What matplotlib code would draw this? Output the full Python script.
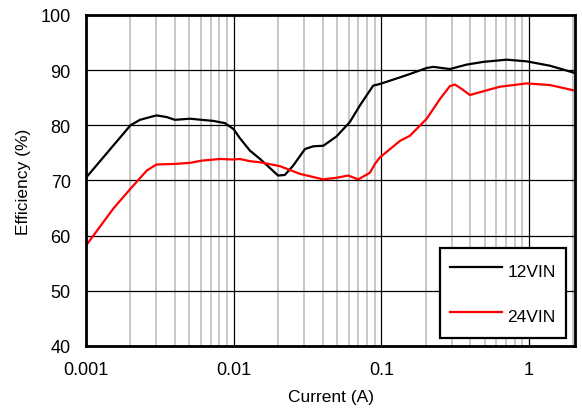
import numpy as np
import matplotlib
matplotlib.use("Agg")
import matplotlib.pyplot as plt
from matplotlib.ticker import FixedLocator, NullFormatter
from matplotlib.lines import Line2D

plt.rcParams["font.family"] = ["Liberation Sans", "DejaVu Sans"]

# 12VIN efficiency curve
cur_12 = [0.001, 0.002, 0.00232, 0.0030, 0.00352, 0.004, 0.00506, 0.00607, 0.00728,
          0.00873, 0.01, 0.011, 0.0129, 0.0151, 0.02, 0.0222, 0.0253, 0.0304,
          0.0346, 0.0405, 0.0498, 0.0612, 0.0716, 0.0881, 0.098, 0.134, 0.156,
          0.203, 0.225, 0.291, 0.377, 0.49, 0.705, 0.964, 1.39, 2.04]
eff_12 = [70.5, 80.0, 81.0, 81.8, 81.5, 81.0, 81.2, 81.0, 80.8,
          80.4, 79.3, 77.7, 75.4, 73.9, 70.9, 71.0, 72.7, 75.7,
          76.2, 76.3, 78.0, 80.6, 83.6, 87.2, 87.5, 88.7, 89.3,
          90.4, 90.6, 90.2, 91.0, 91.5, 91.9, 91.6, 90.8, 89.5]

# 24VIN efficiency curve
cur_24 = [0.001, 0.00153, 0.002, 0.00258, 0.003, 0.004, 0.00506, 0.00607, 0.00807,
          0.01, 0.011, 0.0129, 0.0151, 0.0206, 0.0281, 0.0405, 0.0498, 0.0597,
          0.0698, 0.0837, 0.0905, 0.098, 0.134, 0.156, 0.203, 0.25, 0.291,
          0.315, 0.35, 0.398, 0.465, 0.635, 0.964, 1.39, 2.04]
eff_24 = [58.2, 64.9, 68.5, 71.8, 72.9, 73.0, 73.2, 73.6, 73.9,
          73.8, 73.9, 73.5, 73.3, 72.6, 71.2, 70.2, 70.5, 70.9,
          70.2, 71.4, 73.0, 74.2, 77.2, 78.1, 81.2, 84.8, 87.1,
          87.4, 86.6, 85.5, 86.0, 87.0, 87.6, 87.3, 86.3]

x_ticks = [0.001, 0.01, 0.1, 1]
x_labels = ["0.001", "0.01", "0.1", "1"]
y_ticks = [40, 50, 60, 70, 80, 90, 100]

fig = plt.figure(figsize=(5.82, 4.10), dpi=100)
ax = fig.add_axes([86 / 582, 1 - 347 / 410, (575 - 86) / 582, (347 - 16) / 410])

ax.set_xscale("log")
ax.set_xlim(0.001, 2.05)
ax.set_ylim(40, 100)

# minor gridlines (grey), major (black)
minors = [m * 10.0 ** e for e in range(-3, 1) for m in range(2, 10)]
minors = [v for v in minors if v < 2.05]
ax.xaxis.set_minor_locator(FixedLocator(minors))
ax.xaxis.set_minor_formatter(NullFormatter())
ax.set_xticks(x_ticks)
ax.set_xticklabels(x_labels)
ax.set_yticks(y_ticks)
ax.grid(which="minor", axis="x", color="#bfbfbf", lw=1.2)
ax.grid(which="major", axis="both", color="black", lw=0.9)
ax.set_axisbelow(True)
ax.tick_params(which="both", length=0, labelsize=13, pad=11)

ax.plot(cur_12, eff_12, color="black", lw=1.6, label="12VIN",
        solid_joinstyle="round")
ax.plot(cur_24, eff_24, color="red", lw=1.6, label="24VIN",
        solid_joinstyle="round")

for s in ax.spines.values():
    s.set_linewidth(2)

ax.set_xlabel("Current (A)", fontsize=12.5, labelpad=8)
ax.set_ylabel("Efficiency (%)", fontsize=12.5, labelpad=7)

leg = ax.legend(loc="lower right", bbox_to_anchor=(0.9816, 0.024), fontsize=12.5,
                frameon=True, fancybox=False, edgecolor="black",
                labelspacing=1.1, handlelength=3.0, handleheight=1.85,
                handletextpad=0.3, borderpad=0.6, borderaxespad=0)
leg.get_frame().set_linewidth(1.6)
leg.get_frame().set_alpha(1)

# thin rule along the top edge of the image
fig.add_artist(Line2D([0, 575 / 582], [0.999, 0.999], color="black", lw=1.2,
                      transform=fig.transFigure))

fig.savefig("out.png", dpi=100)
